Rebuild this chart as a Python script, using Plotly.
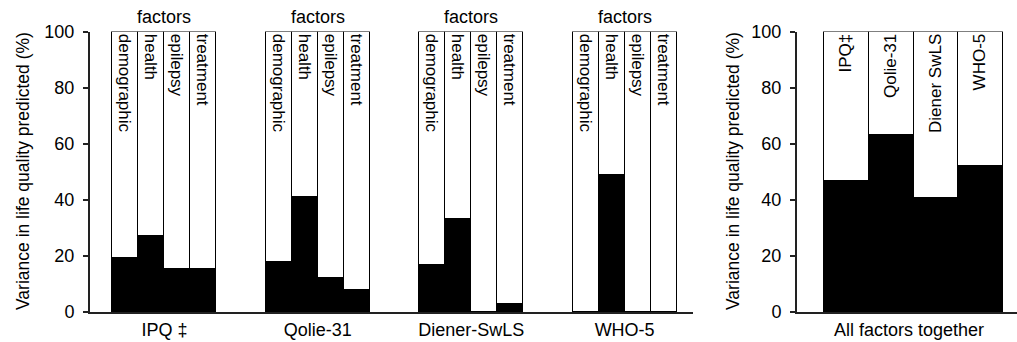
import plotly.graph_objects as go

# ---------------- data ----------------
groups = ["IPQ ‡", "Qolie-31", "Diener-SwLS", "WHO-5"]
factors = ["demographic", "health", "epilepsy", "treatment"]
ipq = [19, 27, 15, 15]
qolie = [17.5, 41, 12, 7.5]
diener = [16.5, 33, 0, 2.5]
who5 = [0, 48.5, 0, 0]
group_values = [ipq, qolie, diener, who5]

all_labels = ["IPQ‡", "Qolie-31", "Diener SwLS", "WHO-5"]
all_values = [46.5, 63, 40.5, 52]
all_title = "All factors together"
yticks = [0, 20, 40, 60, 80, 100]
ytitle = "Variance in life quality predicted (%)"
TOTAL = 100

# ---------------- layout params ----------------
W, H = 1017, 342
GROUP_STEP = 5.9
FONT = "Liberation Sans"
AX = "#222222"

def px_x(p):
    return p / W

def px_y(p):
    return 1 - p / H

ydom = [px_y(312), px_y(31.5)]

# positions for left chart
xs, ys, rest, texts = [], [], [], []
for g, vals in enumerate(group_values):
    for i, v in enumerate(vals):
        xs.append(g * GROUP_STEP + i)
        ys.append(v)
        rest.append(TOTAL - v)
        texts.append(factors[i])
centers = [g * GROUP_STEP + (len(factors) - 1) / 2 for g in range(len(groups))]

fig = go.Figure()
line = dict(color="black", width=1.5)
fig.add_trace(go.Bar(x=xs, y=ys, width=1, marker=dict(color="black", line=line),
                     xaxis="x", yaxis="y", showlegend=False, hoverinfo="skip"))
fig.add_trace(go.Bar(x=xs, y=rest, width=1, marker=dict(color="white", line=line),
                     text=texts, textposition="inside", insidetextanchor="end",
                     textangle=90, insidetextfont=dict(family=FONT, size=17, color="black"),
                     xaxis="x", yaxis="y", showlegend=False, hoverinfo="skip"))

xr = list(range(len(all_values)))
fig.add_trace(go.Bar(x=xr, y=all_values, width=1, marker=dict(color="black", line=line),
                     xaxis="x2", yaxis="y2", showlegend=False, hoverinfo="skip"))
fig.add_trace(go.Bar(x=xr, y=[TOTAL - v for v in all_values], width=1,
                     marker=dict(color="white", line=line),
                     text=all_labels, textposition="inside", insidetextanchor="end",
                     textangle=-90, insidetextfont=dict(family=FONT, size=17, color="black"),
                     xaxis="x2", yaxis="y2", showlegend=False, hoverinfo="skip"))

tickfont = dict(family=FONT, size=18, color="black")
common_x = dict(showline=True, linecolor=AX, linewidth=2, ticks="", showgrid=False,
                zeroline=False, automargin=False,
                tickfont=dict(family=FONT, size=18, color="black"))
common_y = dict(showline=True, linecolor=AX, linewidth=2, ticks="outside", ticklen=5,
                tickwidth=2, tickcolor=AX, showgrid=False, zeroline=False, automargin=False,
                range=[0, TOTAL], tickvals=yticks, tickfont=tickfont, domain=ydom)

annotations = []
for g in range(len(groups)):
    annotations.append(dict(text="factors", x=centers[g], xref="x", y=px_y(17), yref="paper",
                            showarrow=False, xanchor="center", yanchor="middle",
                            font=dict(family=FONT, size=18, color="black")))
for xc in (23, 733):
    annotations.append(dict(text=ytitle, x=px_x(xc), xref="paper", y=px_y(171), yref="paper",
                            showarrow=False, textangle=-90, xanchor="center", yanchor="middle",
                            font=dict(family=FONT, size=17.5, color="black")))

fig.update_layout(
    width=W, height=H, margin=dict(l=0, r=0, t=0, b=0, pad=0, autoexpand=False),
    paper_bgcolor="white", plot_bgcolor="white",
    barmode="stack", bargap=0,
    uniformtext=dict(minsize=17, mode="show"),
    xaxis=dict(domain=[px_x(90), px_x(693)], range=[-1.365, 21.83], anchor="y",
               tickvals=centers, ticktext=groups, **common_x),
    yaxis=dict(anchor="x", ticklabelstandoff=5, **common_y),
    xaxis2=dict(domain=[px_x(797), 1.0], range=[-1.1, 3.81], anchor="y2",
                tickvals=[(len(all_values) - 1) / 2 - 0.1], ticktext=[all_title], **common_x),
    yaxis2=dict(anchor="x2", ticklabelstandoff=5, **common_y),
    annotations=annotations,
)

fig.write_html("out.html", config={"displayModeBar": False},
               post_script="document.body.style.margin='0';document.body.style.overflow='hidden';")
